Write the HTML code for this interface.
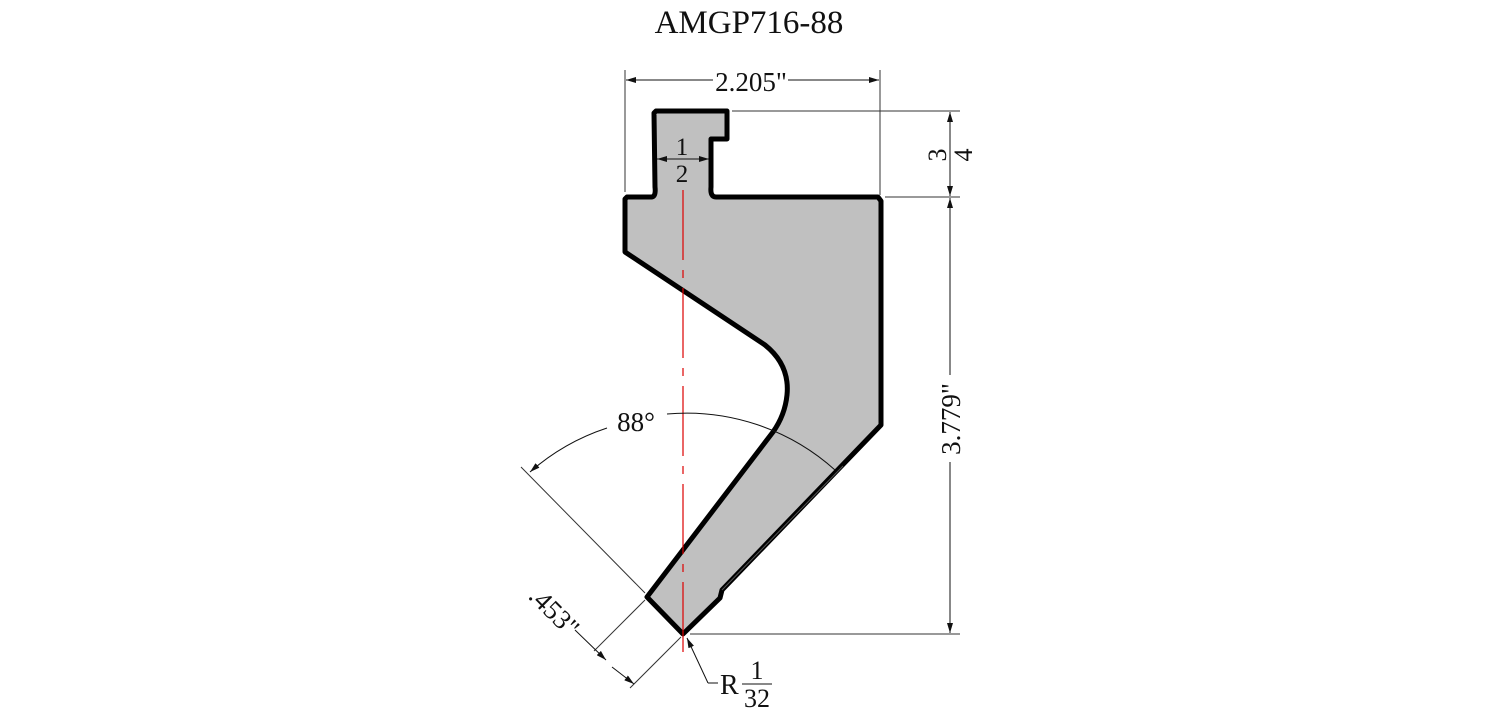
<!DOCTYPE html>
<html><head><style>
html,body{margin:0;padding:0;background:#fff;}
svg{display:block;}
text{font-family:"Liberation Serif",serif;fill:#111;}
</style></head><body>
<svg width="1500" height="715" viewBox="0 0 1500 715" xmlns="http://www.w3.org/2000/svg">
<defs>
<marker id="a" viewBox="0 0 10 6" refX="10" refY="3" markerWidth="10" markerHeight="6" orient="auto-start-reverse" markerUnits="userSpaceOnUse"><path d="M0,0 L10,3 L0,6z" fill="#111"/></marker>
</defs>
<text x="749" y="33" font-size="33" text-anchor="middle">AMGP716-88</text>

<path d="M656,111 L727,111 L727,139 L711,139 L711,187 Q710,197 716,197 L878,197 L881,201 L881,425 L722,590 L720,598 L683,634 L647,597 L773,432 Q785,415 787,395 Q790,365 765,345 L625,252 L625,199 L627,197 L652,197 Q656,196 655,187 L654,113 Z" fill="#c0c0c0" stroke="#000" stroke-width="5" stroke-linejoin="round"/>

<line x1="683" y1="190" x2="683" y2="660" stroke="#d00" stroke-width="1.2" stroke-dasharray="70,10,8,10"/>

<line x1="625" y1="70" x2="625" y2="192" stroke="#333" stroke-width="1"/>
<line x1="880" y1="70" x2="880" y2="195" stroke="#333" stroke-width="1"/>
<line x1="626" y1="80" x2="713" y2="80" stroke="#111" stroke-width="1" marker-start="url(#a)"/>
<line x1="788" y1="80" x2="879" y2="80" stroke="#111" stroke-width="1" marker-end="url(#a)"/>
<text x="751" y="91" font-size="27" text-anchor="middle">2.205"</text>

<line x1="657" y1="159" x2="709" y2="159" stroke="#111" stroke-width="1" marker-start="url(#a)" marker-end="url(#a)"/>
<text x="682" y="155" font-size="25" text-anchor="middle">1</text>
<text x="682" y="182" font-size="25" text-anchor="middle">2</text>

<line x1="732" y1="111" x2="960" y2="111" stroke="#333" stroke-width="1"/>
<line x1="885" y1="197" x2="960" y2="197" stroke="#333" stroke-width="1"/>
<line x1="690" y1="634" x2="960" y2="634" stroke="#333" stroke-width="1"/>
<line x1="950" y1="112" x2="950" y2="196" stroke="#111" stroke-width="1" marker-start="url(#a)" marker-end="url(#a)"/>
<text transform="translate(946,155) rotate(-90)" font-size="26" text-anchor="middle">3</text>
<text transform="translate(972,155) rotate(-90)" font-size="26" text-anchor="middle">4</text>
<line x1="950" y1="198" x2="950" y2="375" stroke="#111" stroke-width="1" marker-start="url(#a)"/>
<line x1="950" y1="462" x2="950" y2="633" stroke="#111" stroke-width="1" marker-end="url(#a)"/>
<text transform="translate(960,419) rotate(-90)" font-size="27" text-anchor="middle">3.779"</text>

<line x1="843" y1="466" x2="722" y2="590" stroke="#555" stroke-width="1"/>

<line x1="521" y1="467" x2="645" y2="593" stroke="#333" stroke-width="1"/>
<path d="M530,472 A222,222 0 0 1 607,428" fill="none" stroke="#111" stroke-width="1" marker-start="url(#a)"/>
<path d="M667,414 A222,222 0 0 1 835,470" fill="none" stroke="#111" stroke-width="1"/>
<text x="636" y="431" font-size="27" text-anchor="middle">88°</text>

<line x1="645" y1="600" x2="594" y2="651" stroke="#333" stroke-width="1"/>
<line x1="681" y1="637" x2="630" y2="688" stroke="#333" stroke-width="1"/>
<line x1="575" y1="630" x2="606" y2="660" stroke="#111" stroke-width="1" marker-end="url(#a)"/>
<line x1="612" y1="667" x2="634" y2="684" stroke="#111" stroke-width="1" marker-end="url(#a)"/>
<text transform="translate(548,618) rotate(45)" font-size="27" text-anchor="middle">.453"</text>

<line x1="708" y1="683" x2="687" y2="638" stroke="#111" stroke-width="1" marker-end="url(#a)"/>
<line x1="708" y1="683" x2="718" y2="683" stroke="#111" stroke-width="1"/>
<text x="720" y="694" font-size="28">R</text>
<text x="757" y="679" font-size="26" text-anchor="middle">1</text>
<line x1="742" y1="684" x2="772" y2="684" stroke="#111" stroke-width="1"/>
<text x="757" y="707" font-size="26" text-anchor="middle">32</text>
</svg>
</body></html>
